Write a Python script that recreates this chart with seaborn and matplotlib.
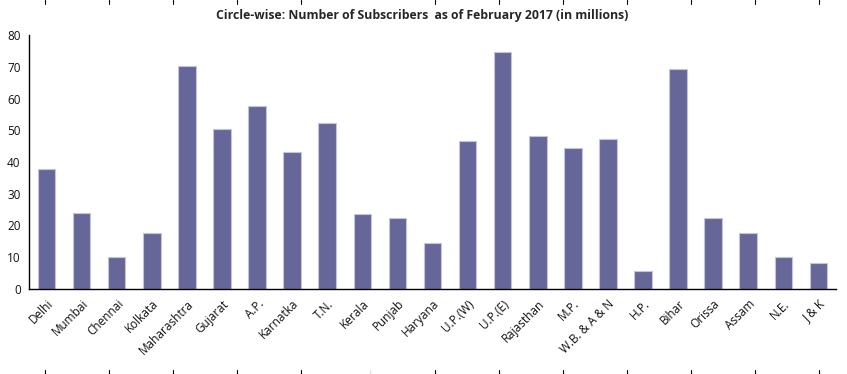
import numpy as np
import pandas as pd
import matplotlib
matplotlib.use("Agg")
import matplotlib.pyplot as plt
import seaborn as sns

# circles and subscribers (millions), Feb 2017
circles = ["Delhi", "Mumbai", "Chennai", "Kolkata", "Maharashtra", "Gujarat", "A.P.",
           "Karnatka", "T.N.", "Kerala", "Punjab", "Haryana", "U.P.(W)", "U.P.(E)",
           "Rajasthan", "M.P.", "W.B. & A & N", "H.P.", "Bihar", "Orissa", "Assam",
           "N.E.", "J & K"]
subscribers = [37.9, 24.0, 10.0, 17.6, 70.2, 50.4, 57.7,
               43.0, 52.4, 23.6, 22.4, 14.6, 46.7, 74.6,
               48.1, 44.5, 47.1, 5.7, 69.3, 22.5, 17.5,
               10.0, 8.2]
y_ticks = [0, 10, 20, 30, 40, 50, 60, 70, 80]

df = pd.DataFrame({"circle": circles, "subs": subscribers})

sns.set_style("white")
plt.rcParams["font.family"] = ["Open Sans", "DejaVu Sans"]

fig = plt.figure(figsize=(8.47, 3.74), dpi=100)
ax = fig.add_axes([0.0342, 0.2273, 0.9528, 0.6791])

sns.barplot(data=df, x="circle", y="subs", color="#666699", saturation=1,
            width=0.5, edgecolor="#c4c4dc", linewidth=0.8, ax=ax)

n = len(circles)
ax.set_xlim(-0.5, n - 0.5)
ax.set_ylim(0, 80)
ax.set_yticks(y_ticks)
ax.set_xlabel("")
ax.set_ylabel("")

# category boundaries get the tick marks, labels sit at centers
ax.set_xticks(np.arange(n), circles)
ax.set_xticks(np.arange(n + 1) - 0.5, minor=True)
ax.tick_params(axis="x", which="major", length=0, pad=6, labelsize=8.5, labelcolor="#111111")
ax.tick_params(axis="x", which="minor", length=4, width=1, color="black", direction="out")
ax.tick_params(axis="y", length=4, width=1, color="black", direction="out", pad=2,
               labelsize=8.5, labelcolor="#111111")
for lbl in ax.get_xticklabels():
    lbl.set_rotation(45)
    lbl.set_ha("right")
    lbl.set_rotation_mode("anchor")

sns.despine(ax=ax)
for s in ["left", "bottom"]:
    ax.spines[s].set_color("black")
    ax.spines[s].set_linewidth(1)

fig.suptitle("Circle-wise: Number of Subscribers  as of February 2017 (in millions)",
             x=0.498, y=0.975, fontsize=8.8, fontweight="bold")

# page-break marks along the top and bottom edges
for xp in [45, 109, 173, 237, 301, 435, 499, 563, 627, 691, 755, 819]:
    fig.add_artist(plt.Line2D([xp / 847, xp / 847], [1.0, 0.989], color="black", lw=0.8))
    fig.add_artist(plt.Line2D([xp / 847, xp / 847], [0.0, 0.011], color="black", lw=0.8))
fig.add_artist(plt.Line2D([370 / 847, 370 / 847], [0.0, 0.011], color="#dddddd", lw=0.8))

fig.savefig("out.png", dpi=100)
